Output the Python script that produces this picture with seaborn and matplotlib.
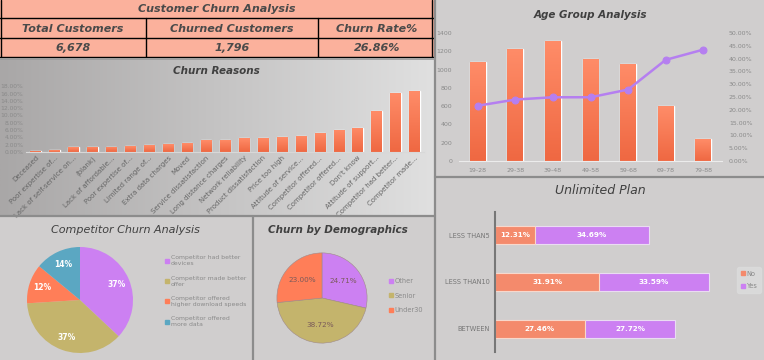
import numpy as np
import pandas as pd
import matplotlib
matplotlib.use("Agg")
import matplotlib.pyplot as plt
import seaborn as sns
from matplotlib.lines import Line2D
from matplotlib.patches import Rectangle
from matplotlib.colors import LinearSegmentedColormap

# ---------------- data ----------------
kpi_names = ["Total Customers", "Churned Customers", "Churn Rate%"]
kpi_values = ["6,678", "1,796", "26.86%"]

reasons = ["Deceased", "Poor expertise of...", "Lack of self-service on...", "(blank)",
           "Lack of affordable...", "Poor expertise of...", "Limited range of...",
           "Extra data charges", "Moved", "Service dissatisfaction", "Long distance charges",
           "Network reliability", "Product dissatisfaction", "Price too high",
           "Attitude of service...", "Competitor offered...", "Competitor offered...",
           "Don't know", "Attitude of support...", "Competitor had better...",
           "Competitor made..."]
reason_pct = [0.35, 0.5, 1.3, 1.45, 1.5, 1.6, 1.9, 2.1, 2.4, 3.2, 3.4, 3.8, 3.95,
              4.0, 4.5, 5.2, 6.1, 6.7, 11.1, 16.2, 16.6]

age_groups = ["19-28", "29-38", "39-48", "49-58", "59-68", "69-78", "79-88"]
age_counts = [1086, 1225, 1309, 1116, 1065, 598, 237]
age_churn_rate = [0.216, 0.240, 0.249, 0.249, 0.279, 0.395, 0.435]

plan_cats = ["LESS THAN5", "LESS THAN10", "BETWEEN"]
plan_no = [12.31, 31.91, 27.46]
plan_yes = [34.69, 33.59, 27.72]

comp_labels = ["Competitor had better\ndevices", "Competitor made better\noffer",
               "Competitor offered\nhigher download speeds", "Competitor offered\nmore data"]
comp_pct = [37, 37, 12, 14]

demo_labels = ["Other", "Senior", "Under30"]
demo_pct = [24.71, 38.72, 23.00]

# ---------------- style ----------------
sns.set_theme(style="white")
plt.rcParams["font.family"] = ["DejaVu Sans"]

BG = "#d0cece"
ORANGE = "#f77a55"
PURPLE = "#cc80f2"
OLIVE = "#c4b46c"
CORAL = "#ff7e58"
TEAL = "#5ba7c2"
TICK = "#8a8a8a"

W, H = 764, 360
fig = plt.figure(figsize=(W / 100, H / 100), dpi=100, facecolor=BG)


def px_axes(x0, y0, x1, y1):
    return fig.add_axes([x0 / W, 1 - y1 / H, (x1 - x0) / W, (y1 - y0) / H])


def fx(x):
    return x / W


def fy(y):
    return 1 - y / H


def gradient_bars(ax, patches, c_top, c_bot):
    cmap = LinearSegmentedColormap.from_list("g", [c_bot, c_top])
    xl, yl = ax.get_xlim(), ax.get_ylim()
    grad = np.linspace(0, 1, 64)[:, None]
    for p in patches:
        x0, y0 = p.get_x(), p.get_y()
        w, h = p.get_width(), p.get_height()
        im = ax.imshow(grad, cmap=cmap, aspect="auto", origin="lower",
                       extent=[x0, x0 + w, y0, y0 + h], zorder=p.get_zorder() + 0.1)
        im.set_clip_path(p)
    ax.set_xlim(xl)
    ax.set_ylim(yl)


# ---------------- header table ----------------
hdr = px_axes(0, 0, 435, 58)
hdr.set_xlim(0, 435)
hdr.set_ylim(58, 0)
hdr.axis("off")
hdr.add_patch(Rectangle((0, 0), 435, 57, facecolor="#fbb19c", edgecolor="none"))
for yy in [17.5, 38, 57]:
    hdr.plot([0, 435], [yy, yy], color="black", lw=1)
for xx in [146, 318]:
    hdr.plot([xx, xx], [17.5, 57], color="black", lw=1)
hdr.plot([0.5, 0.5], [0, 57], color="black", lw=1)
hdr.plot([432, 432], [0, 57], color="black", lw=1)
hdr.text(217, 8.8, "Customer Churn Analysis", ha="center", va="center", fontsize=8,
         fontweight="heavy", style="italic", color="#4a4a4a")
for cx, name, val in zip([73, 232, 377], kpi_names, kpi_values):
    hdr.text(cx, 28.5, name, ha="center", va="center", fontsize=8,
             fontweight="heavy", style="italic", color="#4a4a4a")
    hdr.text(cx, 48, val, ha="center", va="center", fontsize=8,
             fontweight="heavy", style="italic", color="#4a4a4a")

# ---------------- churn reasons ----------------
bg = px_axes(0, 58, 435, 216)
bg.imshow(np.linspace(0, 1, 256)[None, :],
          cmap=LinearSegmentedColormap.from_list("bgg", ["#a9a7a7", "#e0e0e0"]),
          aspect="auto", extent=[0, 1, 0, 1])
bg.axis("off")

ax1 = px_axes(26, 84, 424, 152)
ax1.patch.set_alpha(0)
df_r = pd.DataFrame({"reason": [f"{i}" for i in range(len(reasons))], "pct": reason_pct})
sns.barplot(data=df_r, x="reason", y="pct", ax=ax1, color=ORANGE, width=0.55,
            saturation=1)
ax1.set_ylim(0, 18.6)
ax1.set_yticks(np.arange(0, 19, 2))
ax1.set_yticklabels([f"{v:.2f}%" for v in np.arange(0, 19, 2)], fontsize=4.3, color=TICK)
ax1.set_xticks(range(len(reasons)))
ax1.set_xticklabels(reasons, rotation=45, ha="right", rotation_mode="anchor",
                    fontsize=5, color="#666666")
ax1.tick_params(axis="both", length=0, pad=2)
ax1.set_xlabel("")
ax1.set_ylabel("")
sns.despine(ax=ax1, left=True, bottom=False)
ax1.spines["bottom"].set_color("#d8d8d8")
ax1.spines["bottom"].set_linewidth(0.8)
gradient_bars(ax1, ax1.patches, "#ff8c68", "#ef6842")
fig.text(fx(216), fy(71.5), "Churn Reasons", ha="center", va="center", fontsize=7.5,
         fontweight="bold", style="italic", color="#404040")

# ---------------- age group ----------------
ax2 = px_axes(459, 33, 722, 161)
ax2.patch.set_alpha(0)
df_a = pd.DataFrame({"age": age_groups, "count": age_counts, "rate": age_churn_rate})
sns.barplot(data=df_a, x="age", y="count", ax=ax2, color=ORANGE, width=0.42, saturation=1)
ax2.set_ylim(0, 1400)
ax2.set_yticks(range(0, 1401, 200))
ax2.tick_params(axis="both", length=0, labelsize=4.5, labelcolor=TICK, pad=5)
ax2.set_xlabel("")
ax2.set_ylabel("")
for s in ["top", "right", "left"]:
    ax2.spines[s].set_visible(False)
ax2.spines["bottom"].set_color("#ececec")
ax2.spines["bottom"].set_linewidth(0.8)
gradient_bars(ax2, ax2.patches, "#ff8c68", "#ef6842")
ax3 = ax2.twinx()
sns.lineplot(x=np.arange(len(age_groups)), y=df_a["rate"], ax=ax3, color="#b57ff0",
             lw=1.8, marker="o", markersize=5, markeredgecolor="#b57ff0")
ax3.set_ylim(0, 0.5)
ax3.set_yticks(np.arange(0, 0.501, 0.05))
ax3.set_yticklabels([f"{v * 100:.2f}%" for v in np.arange(0, 0.501, 0.05)])
ax3.tick_params(axis="y", length=0, labelsize=4.5, labelcolor=TICK, pad=5)
ax3.set_ylabel("")
for s in ax3.spines.values():
    s.set_visible(False)
fig.text(fx(590), fy(15), "Age Group Analysis", ha="center", va="center", fontsize=7.5,
         fontweight="bold", style="italic", color="#404040")

# ---------------- unlimited plan ----------------
ax4 = px_axes(495, 212, 740, 352)
ax4.patch.set_alpha(0)
df_p = pd.DataFrame({"cat": plan_cats, "no": plan_no, "yes": plan_yes})
df_p["total"] = df_p["no"] + df_p["yes"]
sns.barplot(data=df_p, y="cat", x="total", ax=ax4, color=PURPLE, orient="h", width=0.39,
            saturation=1, edgecolor="#eadcf2", linewidth=0.8)
sns.barplot(data=df_p, y="cat", x="no", ax=ax4, color="#f48a6c", orient="h", width=0.39,
            saturation=1, edgecolor="#f7d8cc", linewidth=0.8)
ax4.set_xlim(0, 75)
ax4.set_xticks([])
ax4.set_xlabel("")
ax4.set_ylabel("")
ax4.tick_params(axis="y", length=0, labelsize=4.8, labelcolor="#777777", pad=4)
for s in ["top", "right", "bottom"]:
    ax4.spines[s].set_visible(False)
ax4.spines["left"].set_color("#777777")
ax4.spines["left"].set_linewidth(1.5)
for i, (n, y) in enumerate(zip(plan_no, plan_yes)):
    ax4.text(n / 2, i, f"{n:.2f}%", ha="center", va="center", fontsize=5.2,
             fontweight="bold", color="white")
    ax4.text(n + y / 2, i, f"{y:.2f}%", ha="center", va="center", fontsize=5.2,
             fontweight="bold", color="white")
fig.text(fx(600), fy(191), "Unlimited Plan", ha="center", va="center", fontsize=9,
         style="italic", color="#404040")
leg4 = fig.legend(handles=[Line2D([], [], marker="s", ls="", color="#f48a6c", markersize=2.5),
                           Line2D([], [], marker="s", ls="", color=PURPLE, markersize=2.5)],
                  labels=["No", "Yes"], loc="center", bbox_to_anchor=(fx(749), fy(280)),
                  fontsize=4.8, frameon=True, handletextpad=0.1, borderpad=0.5,
                  labelspacing=1.0, handlelength=0.8)
leg4.get_frame().set_facecolor("#dcdcdc")
leg4.get_frame().set_edgecolor("#dcdcdc")
for t in leg4.get_texts():
    t.set_color("#888888")

# ---------------- competitor pie ----------------
ax5 = px_axes(27, 247, 133, 353)
w5, t5, a5 = ax5.pie(comp_pct, colors=[PURPLE, OLIVE, CORAL, TEAL], startangle=90,
                     counterclock=False, autopct="%d%%", pctdistance=0.75,
                     wedgeprops=dict(linewidth=0))
for t in a5:
    t.set_color("white")
    t.set_fontsize(5.5)
    t.set_fontweight("bold")
ax5.set_xlim(-1, 1)
ax5.set_ylim(-1, 1)
ax5.set_aspect("equal")
fig.text(fx(125), fy(230), "Competitor Churn Analysis", ha="center", va="center",
         fontsize=8, style="italic", color="#404040")
leg5 = fig.legend(handles=[Line2D([], [], marker="s", ls="", color=c, markersize=2.5)
                           for c in [PURPLE, OLIVE, CORAL, TEAL]],
                  labels=comp_labels, loc="upper left", bbox_to_anchor=(fx(159), fy(250)),
                  fontsize=4.4, frameon=False, handletextpad=0.2, labelspacing=1.55,
                  handlelength=0.8)
for t in leg5.get_texts():
    t.set_color("#8a8a8a")

# ---------------- demographics pie ----------------
ax6 = px_axes(276, 252, 368, 344)
w6, t6, a6 = ax6.pie(demo_pct, colors=[PURPLE, OLIVE, CORAL], startangle=90,
                     counterclock=False, pctdistance=0.6,
                     autopct=lambda p: f"{p * sum(demo_pct) / 100:.2f}%",
                     wedgeprops=dict(linewidth=0.4, edgecolor="#a08a8a"))
for t in a6:
    t.set_color("#7a5a5a")
    t.set_fontsize(5.2)
ax6.set_xlim(-1.02, 1.02)
ax6.set_ylim(-1.02, 1.02)
ax6.set_aspect("equal")
fig.text(fx(338), fy(230), "Churn by Demographics", ha="center", va="center",
         fontsize=7.5, fontweight="bold", style="italic", color="#404040")
leg6 = fig.legend(handles=[Line2D([], [], marker="s", ls="", color=c, markersize=2.5)
                           for c in [PURPLE, OLIVE, CORAL]],
                  labels=demo_labels, loc="upper left", bbox_to_anchor=(fx(382), fy(272)),
                  fontsize=4.8, frameon=False, handletextpad=0.2, labelspacing=1.3,
                  handlelength=0.8)
for t in leg6.get_texts():
    t.set_color("#8a8a8a")

# ---------------- panel separators ----------------
sep = dict(color="#8c8c8c", lw=1.6, transform=fig.transFigure)
fig.add_artist(Line2D([fx(435), fx(435)], [fy(0), fy(360)], **sep))
fig.add_artist(Line2D([fx(0), fx(435)], [fy(216), fy(216)], **sep))
fig.add_artist(Line2D([fx(253), fx(253)], [fy(216), fy(360)], **sep))
fig.add_artist(Line2D([fx(435), fx(764)], [fy(177), fy(177)], **sep))
fig.add_artist(Line2D([fx(0), fx(435)], [fy(58.5), fy(58.5)], color="#9a9a9a", lw=1.2,
                      transform=fig.transFigure))

fig.savefig("out.png", dpi=100, facecolor=fig.get_facecolor())
